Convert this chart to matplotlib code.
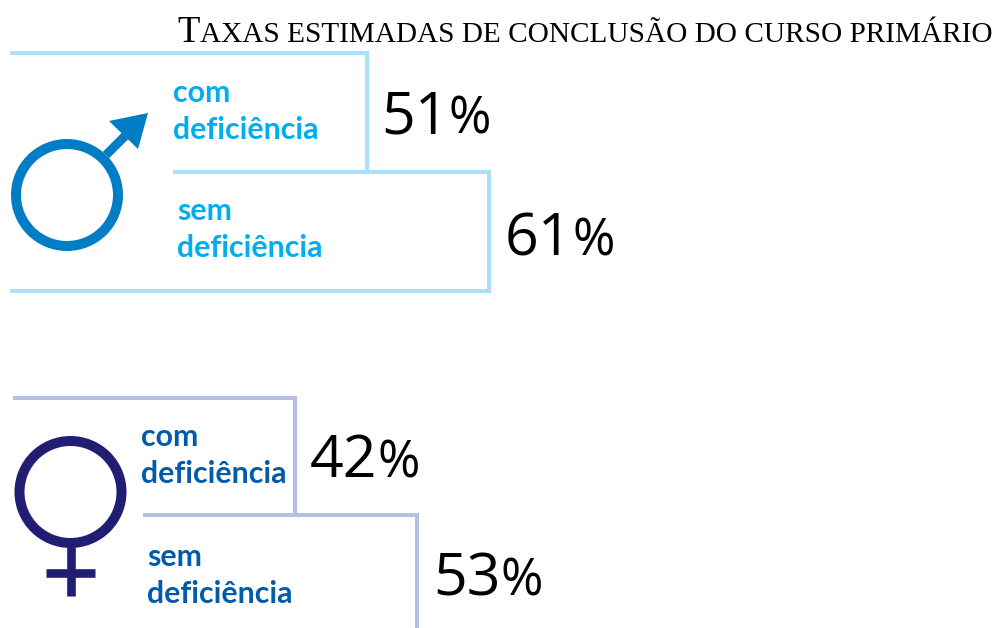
import matplotlib.pyplot as plt
from matplotlib.patches import Circle, Polygon

# values
categorias = ["com\ndeficiência", "sem\ndeficiência"]
taxas_homens = [51, 61]
taxas_mulheres = [42, 53]

W, H = 997, 628
fig = plt.figure(figsize=(W / 100, H / 100), dpi=100)
ax = fig.add_axes([0, 0, 1, 1])
ax.set_xlim(0, W)
ax.set_ylim(H, 0)
ax.axis("off")


def escada(taxas, x_esq, x_texto, y_topo, y_meio, y_fim, escala, origem, cor_linha, fundo=False):
    x1 = origem + taxas[0] * escala
    x2 = origem + taxas[1] * escala
    estilo = dict(color=cor_linha, lw=2.9, solid_joinstyle="miter", solid_capstyle="butt")
    # upper step
    ax.plot([x_esq, x1, x1], [y_topo, y_topo, y_meio], **estilo)
    # lower step, the women's one runs off the page
    if fundo:
        ax.plot([x_texto, x2, x2, x_esq], [y_meio, y_meio, y_fim, y_fim], **estilo)
    else:
        ax.plot([x_texto, x2, x2], [y_meio, y_meio, y_fim], **estilo)


def rotulos(textos, posicoes, cor):
    for txt, (x, y) in zip(textos, posicoes):
        l1, l2 = txt.split("\n")
        ax.text(x, y, l1, color=cor, fontsize=21.8, family="Lato", weight="bold", va="baseline")
        ax.text(x, y + 37, l2, color=cor, fontsize=21.8, family="Lato", weight="bold", va="baseline")


def percentual(valor, x, y):
    ax.text(x, y, str(valor), fontsize=42.5, family="Open Sans", color="black", va="baseline")
    ax.text(x + 67, y, "%", fontsize=37, family="Open Sans", color="black", va="baseline")


# title, small caps by hand
ax.text(177, 42, "T", fontsize=26.5, family="Liberation Serif", color="black", va="baseline")
ax.text(200, 42, "AXAS ESTIMADAS DE CONCLUSÃO DO CURSO PRIMÁRIO", fontsize=21.05,
        family="Liberation Serif", color="black", va="baseline")

# men
escada(taxas_homens, 10, 173, 53, 172, 291, 12.2, -255.2, "#AAE1F8", fundo=True)
rotulos(categorias, [(173, 102), (177, 220)], "#00AEEF")
percentual(taxas_homens[0], 381, 134)
percentual(taxas_homens[1], 505, 256)
ax.add_patch(Circle((67, 195), 51, fill=False, ec="#007DC5", lw=7.2))
ax.plot([106, 128], [155, 133], color="#007DC5", lw=6.5, solid_capstyle="butt")
ax.add_patch(Polygon([[109, 121], [148, 113], [138, 149]], closed=True, fc="#007DC5", ec="none"))

# women
escada(taxas_mulheres, 13, 143, 398, 515, 628, 11.09, -170.8, "#B4BFE2")
rotulos(categorias, [(141, 446), (147, 566)], "#005BAA")
percentual(taxas_mulheres[0], 310, 477)
percentual(taxas_mulheres[1], 433, 595)
ax.add_patch(Circle((70.5, 492), 51, fill=False, ec="#201E73", lw=7.2))
ax.plot([70.5, 70.5], [547, 596], color="#201E73", lw=6.2, solid_capstyle="butt")
ax.plot([46, 95], [572.5, 572.5], color="#201E73", lw=6.2, solid_capstyle="butt")

fig.savefig("out.png", dpi=100, facecolor="white")
